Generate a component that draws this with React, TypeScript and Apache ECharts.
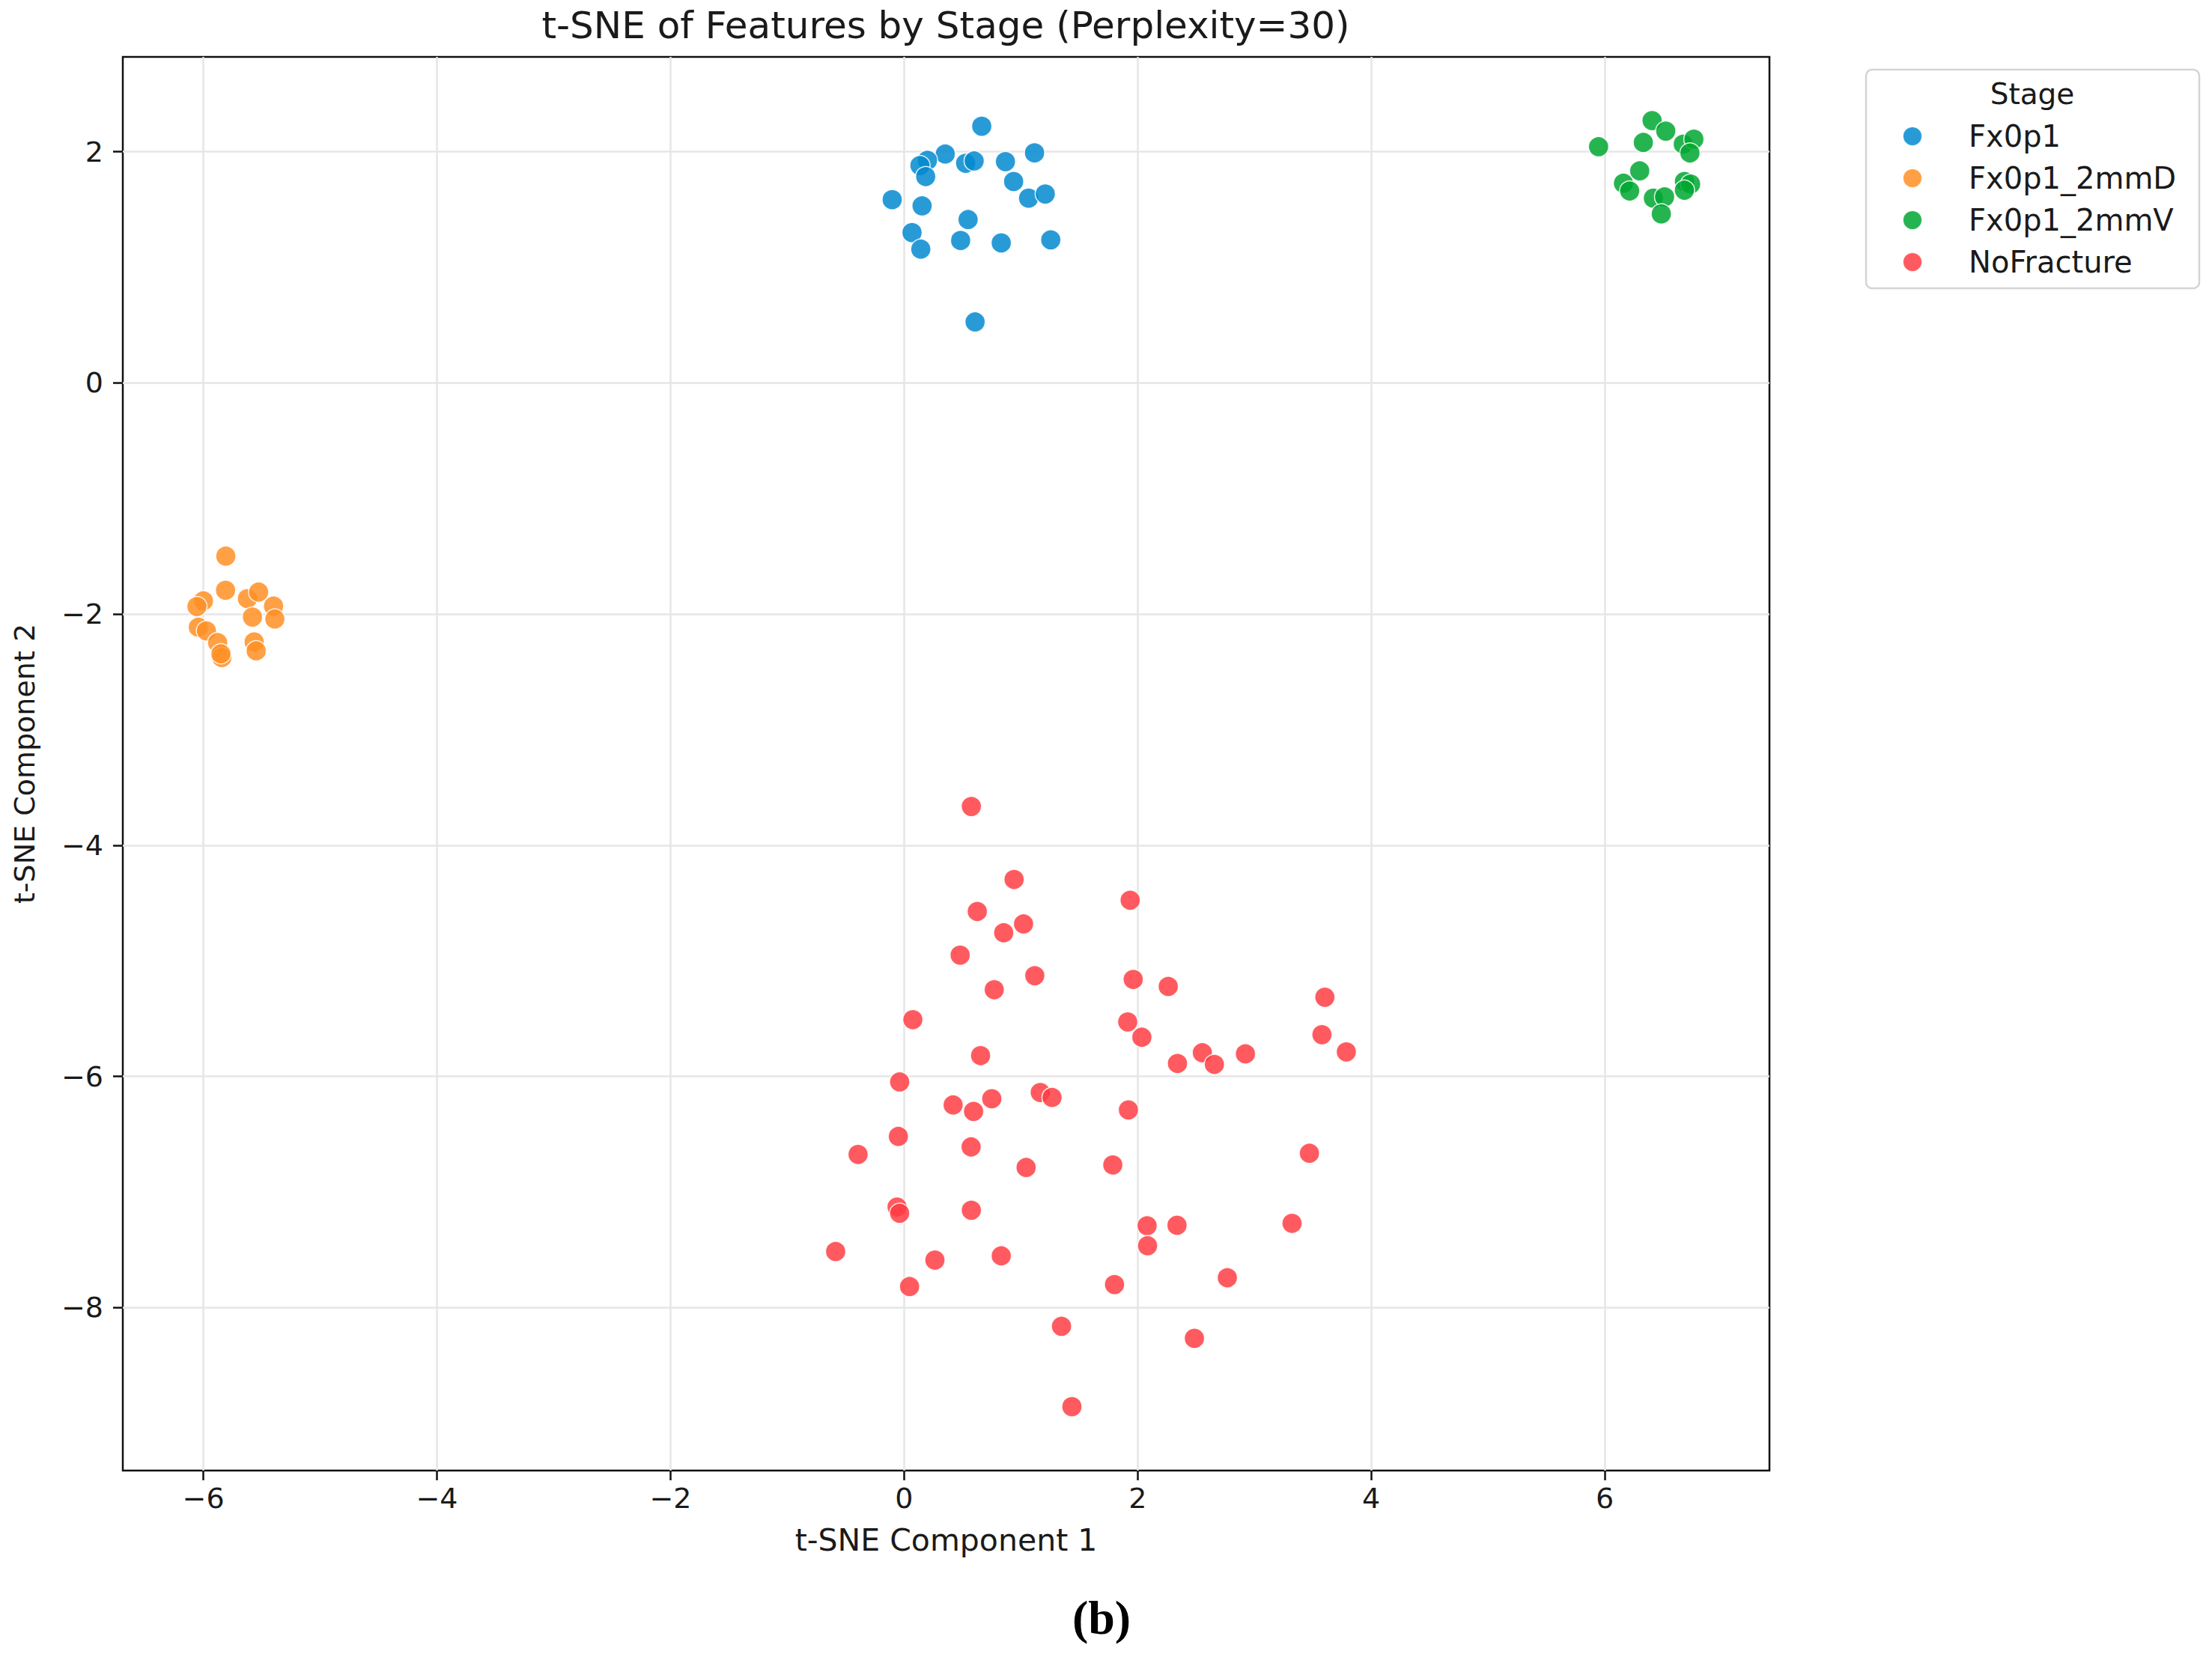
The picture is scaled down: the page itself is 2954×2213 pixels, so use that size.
import React, { useEffect, useRef } from "react";
import * as echarts from "echarts";

// ---- data ----
const stageNames = ["Fx0p1", "Fx0p1_2mmD", "Fx0p1_2mmV", "NoFracture"];

const fx0p1Points = [
  [0.665, 2.22], [0.352, 1.98], [0.2, 1.925], [0.136, 1.88], [0.185, 1.785],
  [0.527, 1.9], [0.6, 1.92], [0.868, 1.914], [1.117, 1.99], [0.938, 1.742],
  [1.066, 1.598], [1.209, 1.634], [-0.102, 1.585], [0.154, 1.531], [0.548, 1.413],
  [0.068, 1.3], [0.143, 1.157], [0.484, 1.232], [0.832, 1.211], [1.256, 1.237],
  [0.608, 0.527],
];

const fx0p1_2mmDPoints = [
  [-5.808, -1.499], [-5.81, -1.794], [-6.0, -1.886], [-6.055, -1.935], [-5.623, -1.867],
  [-5.527, -1.81], [-5.399, -1.931], [-5.58, -2.026], [-5.388, -2.043], [-6.043, -2.114],
  [-5.974, -2.146], [-5.878, -2.247], [-5.842, -2.376], [-5.85, -2.344], [-5.565, -2.241],
  [-5.548, -2.318],
];

const fx0p1_2mmVPoints = [
  [5.947, 2.043], [6.405, 2.269], [6.522, 2.178], [6.33, 2.08], [6.672, 2.065],
  [6.763, 2.108], [6.729, 1.989], [6.299, 1.834], [6.16, 1.727], [6.213, 1.66],
  [6.682, 1.742], [6.735, 1.72], [6.682, 1.667], [6.416, 1.598], [6.512, 1.609],
  [6.484, 1.462],
];

const noFracturePoints = [
  [0.576, -3.665], [0.942, -4.296], [0.627, -4.573], [1.023, -4.681], [0.853, -4.757],
  [0.48, -4.951], [1.119, -5.129], [0.772, -5.25], [0.075, -5.509], [0.655, -5.82],
  [-0.038, -6.048],
  [1.936, -4.476], [1.962, -5.161], [2.262, -5.222], [1.915, -5.529], [2.036, -5.661],
  [2.341, -5.888], [2.554, -5.795], [2.657, -5.896], [2.923, -5.805], [3.603, -5.315],
  [3.578, -5.639], [3.787, -5.788],
  [0.42, -6.247], [0.595, -6.303], [0.751, -6.193], [1.166, -6.139], [1.267, -6.182],
  [-0.049, -6.519], [-0.394, -6.675], [0.574, -6.61], [1.045, -6.788], [-0.06, -7.13],
  [-0.038, -7.184], [0.576, -7.158], [-0.586, -7.515], [0.264, -7.589], [0.832, -7.552],
  [0.047, -7.818], [1.348, -8.162], [1.437, -8.857],
  [1.921, -6.29], [3.471, -6.665], [1.787, -6.766], [2.081, -7.292], [2.337, -7.288],
  [3.322, -7.271], [2.085, -7.465], [2.768, -7.742], [1.802, -7.801], [2.486, -8.266],
];

const xTickValues = [-6, -4, -2, 0, 2, 4, 6];
const yTickValues = [-8, -6, -4, -2, 0, 2];
const xLimits = [-6.69, 7.41];
const yLimits = [-9.41, 2.82];

const titleText = "t-SNE of Features by Stage (Perplexity=30)";
const xAxisTitle = "t-SNE Component 1";
const yAxisTitle = "t-SNE Component 2";
const legendTitle = "Stage";
const panelLabel = "(b)";

// ---- styling ----
const palette = ["#0289D0", "#FF8F25", "#00A731", "#FF3D43"];
const FONT = "DejaVu Sans";
const INK = "#1a1a1a";

const minus = (v: number) => String(v).replace("-", "\u2212");

export default function App() {
  const ref = useRef<HTMLDivElement>(null);

  useEffect(() => {
    document.body.style.margin = "0";
    document.body.style.overflow = "hidden";
    if (!ref.current) return;
    const chart = echarts.init(ref.current, undefined, { renderer: "svg" });

    const seriesData = [fx0p1Points, fx0p1_2mmDPoints, fx0p1_2mmVPoints, noFracturePoints];

    const pointSeries = stageNames.map((name, i) => ({
      name,
      type: "scatter",
      data: seriesData[i],
      symbol: "circle",
      symbolSize: 27,
      z: 3,
      itemStyle: {
        color: palette[i],
        opacity: 0.85,
        borderColor: "#ffffff",
        borderWidth: 1.5,
      },
      emphasis: { disabled: true },
    }));

    const gridSeries = {
      name: "__grid",
      type: "scatter",
      data: [],
      silent: true,
      z: 1,
      markLine: {
        silent: true,
        z: 1,
        symbol: "none",
        label: { show: false },
        lineStyle: { color: "#e6e6e6", width: 2.5, type: "solid" },
        emphasis: { disabled: true },
        data: [
          ...xTickValues.map((v) => ({ xAxis: v })),
          ...yTickValues.map((v) => ({ yAxis: v })),
        ],
      },
    };

    chart.setOption({
      animation: false,
      backgroundColor: "#ffffff",
      textStyle: { fontFamily: FONT, color: INK },
      grid: {
        left: 164,
        top: 76,
        width: 2199,
        height: 1888,
        show: true,
        borderColor: "#111111",
        borderWidth: 2.5,
        backgroundColor: "transparent",
        containLabel: false,
      },
      xAxis: {
        type: "value",
        position: "bottom",
        min: xLimits[0],
        max: xLimits[1],
        name: xAxisTitle,
        nameLocation: "middle",
        nameGap: 72,
        nameTextStyle: { fontSize: 41, color: INK, fontFamily: FONT },
        axisLine: { show: false, onZero: false },
        splitLine: { show: false },
        axisTick: {
          show: true,
          inside: false,
          length: 13,
          customValues: xTickValues,
          lineStyle: { color: "#111111", width: 2.5 },
        },
        axisLabel: {
          customValues: xTickValues,
          formatter: (v: number) => minus(v),
          fontSize: 38,
          color: INK,
          margin: 18,
          fontFamily: FONT,
        },
      },
      yAxis: {
        type: "value",
        position: "left",
        min: yLimits[0],
        max: yLimits[1],
        name: yAxisTitle,
        nameLocation: "middle",
        nameRotate: 90,
        nameGap: 112,
        nameTextStyle: { fontSize: 38, color: INK, fontFamily: FONT },
        axisLine: { show: false, onZero: false },
        splitLine: { show: false },
        axisTick: {
          show: true,
          inside: false,
          length: 13,
          customValues: yTickValues,
          lineStyle: { color: "#111111", width: 2.5 },
        },
        axisLabel: {
          customValues: yTickValues,
          formatter: (v: number) => minus(v),
          fontSize: 38,
          color: INK,
          margin: 26,
          fontFamily: FONT,
        },
      },
      legend: {
        data: stageNames,
        orient: "vertical",
        left: 2540,
        top: 162,
        padding: 0,
        itemWidth: 26,
        itemHeight: 26,
        itemGap: 16,
        icon: "circle",
        selectedMode: false,
        textStyle: {
          fontSize: 40,
          color: INK,
          fontFamily: FONT,
          padding: [0, 0, 0, 57],
        },
      },
      graphic: [
        {
          type: "rect",
          z: 0,
          shape: { x: 2492, y: 93, width: 445, height: 292, r: 8 },
          style: { fill: "#ffffff", stroke: "#d4d4d4", lineWidth: 2.5 },
          silent: true,
        },
        {
          type: "text",
          x: 2714,
          y: 125,
          style: {
            text: legendTitle,
            fontSize: 39,
            fontFamily: FONT,
            fill: INK,
            textAlign: "center",
            textVerticalAlign: "middle",
          },
          silent: true,
        },
        {
          type: "text",
          x: 1263,
          y: 34,
          style: {
            text: titleText,
            fontSize: 50,
            fontFamily: FONT,
            fill: INK,
            textAlign: "center",
            textVerticalAlign: "middle",
          },
          silent: true,
        },
        {
          type: "text",
          x: 1471,
          y: 2160,
          style: {
            text: panelLabel,
            fontSize: 64,
            fontWeight: "bold",
            fontFamily: "Liberation Serif",
            fill: "#000000",
            textAlign: "center",
            textVerticalAlign: "middle",
          },
          silent: true,
        },
      ],
      series: [gridSeries, ...pointSeries],
    });

    return () => {
      chart.dispose();
    };
  }, []);

  return <div ref={ref} style={{ width: 2954, height: 2213 }} />;
}
